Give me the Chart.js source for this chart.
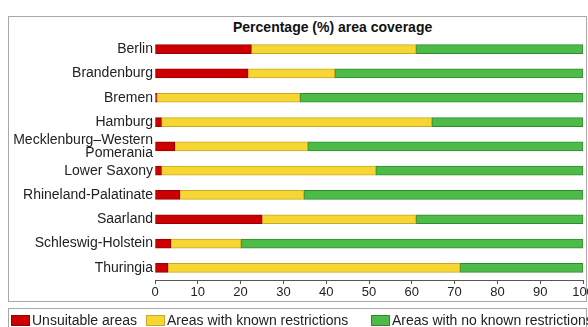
<!DOCTYPE html>
<html>
<head>
<meta charset="utf-8">
<script src="https://cdn.jsdelivr.net/npm/chart.js@4"></script>
<style>
  body { margin: 0; background: #fff; font-family: "Liberation Sans", Arial, sans-serif; }
  #wrap { position: relative; width: 588px; height: 327px; overflow: hidden; }
  .frame { position: absolute; border: 1px solid #a8a8a8; box-sizing: border-box; }
  #title { position: absolute; left: 233px; top: 19px; font-size: 14px; font-weight: bold; line-height: 16px; color: #111; white-space: nowrap; }
  .leg { position: absolute; top: 313px; font-size: 14px; line-height: 14px; color: #222; white-space: nowrap; }
  .leg i { display: inline-block; width: 19px; height: 11px; margin-right: 2px; vertical-align: -1px; box-sizing: border-box; border: 1px solid; }
  canvas { position: absolute; left: 0; top: 0; }
</style>
</head>
<body>
<div id="wrap">
  <div class="frame" style="left:8px;top:16px;width:579px;height:286px"></div>
  <div class="frame" style="left:8px;top:308px;width:579px;height:30px"></div>
  <div id="title">Percentage (%) area coverage</div>
  <canvas id="chart" width="588" height="327"></canvas>
  <div id="legend"></div>
</div>
<script>
// Categories (German states)
const states = ['Berlin', 'Brandenburg', 'Bremen', 'Hamburg', ['Mecklenburg–Western', 'Pomerania'],
  'Lower Saxony', 'Rhineland-Palatinate', 'Saarland', 'Schleswig-Holstein', 'Thuringia'];

// Series values (% of area)
const unsuitable = [22.5, 21.7, 0.4, 1.5, 4.6, 1.5, 5.8, 25.0, 3.7, 3.0];
const knownRestrictions = [38.5, 20.3, 33.5, 63.2, 31.1, 50.1, 29.0, 36.0, 16.4, 68.3];
const noRestrictions = [39.0, 58.0, 66.1, 35.3, 64.3, 48.4, 65.2, 39.0, 79.9, 28.7];

const xTicks = [0, 10, 20, 30, 40, 50, 60, 70, 80, 90, 100];

const seriesNames = ['Unsuitable areas', 'Areas with known restrictions', 'Areas with no known restrictions'];
const fillColors = ['#cc0000', '#f6d633', '#4cbb47'];
const edgeColors = ['#960000', '#c9a825', '#2f8a2f'];
const legendLeft = [11, 146, 371];

const ctx = document.getElementById('chart');
new Chart(ctx, {
  type: 'bar',
  data: {
    labels: states,
    datasets: [unsuitable, knownRestrictions, noRestrictions].map((vals, i) => ({
      label: seriesNames[i],
      data: vals,
      backgroundColor: fillColors[i],
      borderColor: edgeColors[i],
      borderWidth: 1,
      borderSkipped: false,
      barThickness: 9
    }))
  },
  options: {
    indexAxis: 'y',
    responsive: false,
    animation: false,
    layout: { padding: { left: 0, right: 5, top: 37, bottom: 0 } },
    plugins: {
      legend: { display: false },
      title: { display: false },
      tooltip: { enabled: false }
    },
    scales: {
      x: {
        stacked: true,
        min: 0,
        max: 100,
        afterBuildTicks: function(scale) {
          scale.ticks = xTicks.map(v => ({ value: v }));
        },
        afterFit: function(scale) {
          scale.height = 47;
          scale.paddingLeft = 0;
          scale.paddingRight = 0;
        },
        grid: { drawOnChartArea: false, drawTicks: true, tickLength: 4, color: '#555', tickWidth: 1 },
        border: { display: true, color: '#555', width: 1 },
        ticks: {
          color: '#222',
          padding: 1,
          maxRotation: 0,
          font: { family: '"Liberation Sans", Arial, sans-serif', size: 13 }
        }
      },
      y: {
        stacked: true,
        afterFit: function(scale) {
          scale.width = 155;
        },
        grid: { display: false, drawTicks: false, tickLength: 0 },
        border: { display: false },
        ticks: {
          color: '#222',
          padding: 2,
          autoSkip: false,
          font: { family: '"Liberation Sans", Arial, sans-serif', size: 14, lineHeight: 0.95 }
        }
      }
    }
  }
});

// HTML legend built from the series
const legend = document.getElementById('legend');
seriesNames.forEach((name, i) => {
  const item = document.createElement('div');
  item.className = 'leg';
  item.style.left = legendLeft[i] + 'px';
  item.innerHTML = '<i style="background:' + fillColors[i] + ';border-color:' + edgeColors[i] + '"></i>' + name;
  legend.appendChild(item);
});
</script>
</body>
</html>
